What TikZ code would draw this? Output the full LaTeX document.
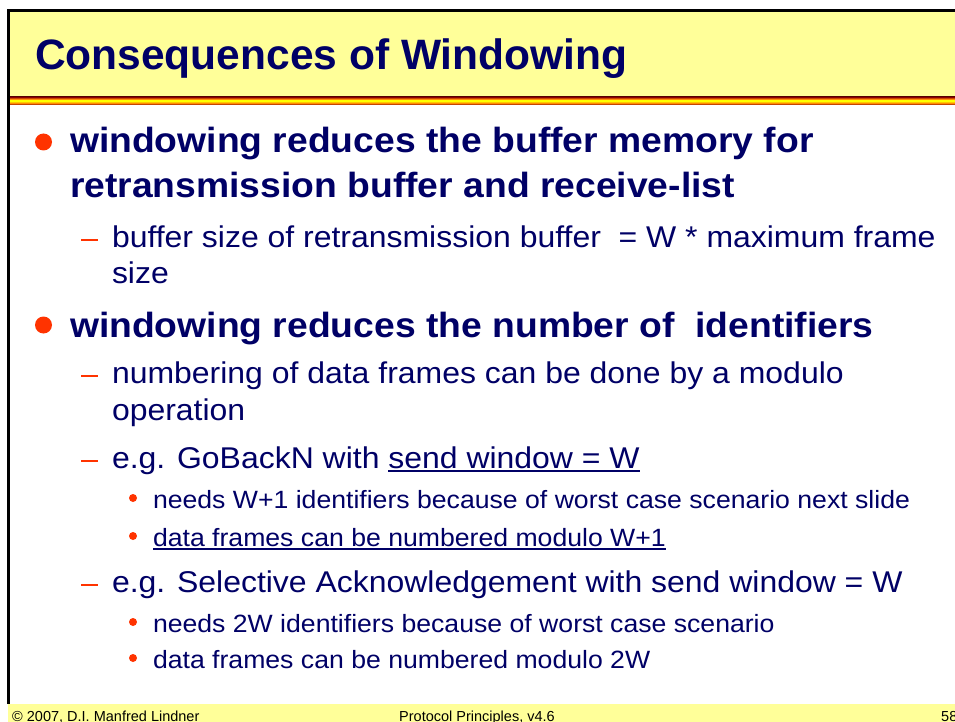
\documentclass[tikz,border=0pt]{standalone}
\usepackage{fontspec}
\setmainfont{Liberation Sans}
\newfontfamily\bodyfont[FakeStretch=1.065]{Liberation Sans}
\definecolor{navy}{RGB}{0,0,102}
\definecolor{slideyellow}{RGB}{255,255,153}
\definecolor{bulletred}{RGB}{255,51,0}
\definecolor{stripedark}{RGB}{140,0,0}
\definecolor{stripeorange}{RGB}{255,140,0}
\newcommand\ulinetext[1]{\leavevmode\sbox0{#1}\rlap{\rule[-4pt]{\wd0}{1.6pt}}\usebox0}
\tikzset{
  txt/.style={anchor=base west, inner sep=0pt, outer sep=0pt, text=navy},
  lvlone/.style={txt, font=\bodyfont\fontsize{35}{42}\selectfont\bfseries},
  lvltwo/.style={txt, font=\bodyfont\fontsize{30}{36}\selectfont},
  lvlthree/.style={txt, font=\bodyfont\fontsize{25}{30}\selectfont},
  foot/.style={anchor=base west, inner sep=0pt, text=black, font=\fontsize{14.5}{16}\selectfont},
  dotone/.style={circle, fill=bulletred, minimum size=17pt, inner sep=0pt},
  dashtwo/.style={rectangle, fill=bulletred, minimum width=17pt, minimum height=2.2pt, inner sep=0pt},
  dotthree/.style={circle, fill=bulletred, minimum size=8pt, inner sep=0pt},
}
\begin{document}
\begin{tikzpicture}[x=1pt,y=-1pt]
\useasboundingbox (0,0) rectangle (955,722);
\fill[white] (0,0) rectangle (955,722);
% header band and title
\fill[slideyellow] (8,11) rectangle (955,97);
\node[txt, font=\fontsize{42.5}{48}\selectfont\bfseries] (title) at (35,70) {Consequences of Windowing};
% coloured stripe under the header
\shade[top color=stripedark, bottom color=yellow, middle color=stripeorange] (8,97) rectangle (955,101);
\shade[top color=yellow, bottom color=stripedark, middle color=stripeorange] (8,101) rectangle (955,105);
% footer band
\fill[slideyellow] (8,704) rectangle (955,730);
% frame lines
\draw[line width=3pt, black] (8,704) -- (8,10.5) -- (955,10.5);
% first point
\node[dotone] (b1) at (43.5,142) {};
\node[lvlone] (l1a) at (70,153) {windowing reduces the buffer memory for};
\node[lvlone] (l1a2) at (70,197) {retransmission buffer and receive-list};
\node[dashtwo] (d1) at (89.5,240) {};
\node[lvltwo] (l2a) at (112,247) {buffer size of retransmission buffer~ = W * maximum frame};
\node[lvltwo] (l2a2) at (112,283) {size};
% second point
\node[dotone] (b2) at (43.5,325) {};
\node[lvlone] (l1b) at (70,337) {windowing reduces the number of~ identifiers};
\node[dashtwo] (d2) at (89.5,376) {};
\node[lvltwo] (l2b) at (112,383) {numbering of data frames can be done by a modulo};
\node[lvltwo] (l2b2) at (112,420) {operation};
\node[dashtwo] (d3) at (89.5,461) {};
\node[lvltwo] (l2c) at (112,468) {e.g. GoBackN with \ulinetext{send window = W}};
\node[dotthree] (s1) at (133,498) {};
\node[lvlthree] (l3a) at (153,508) {needs W+1 identifiers because of worst case scenario next slide};
\node[dotthree] (s2) at (133,536) {};
\node[lvlthree] (l3b) at (153,546) {\ulinetext{data frames can be numbered modulo W+1}};
\node[dashtwo] (d4) at (89.5,585) {};
\node[lvltwo] (l2d) at (112,592) {e.g. Selective Acknowledgement with send window = W};
\node[dotthree] (s3) at (133,622) {};
\node[lvlthree] (l3c) at (153,632) {needs 2W identifiers because of worst case scenario};
\node[dotthree] (s4) at (133,658) {};
\node[lvlthree] (l3d) at (153,668) {data frames can be numbered modulo 2W};
% footer texts
\node[foot] (f1) at (12,721) {© 2007, D.I. Manfred Lindner};
\node[foot] (f2) at (399,721) {Protocol Principles, v4.6};
\node[foot] (f3) at (941,721) {58};
\end{tikzpicture}
\end{document}
